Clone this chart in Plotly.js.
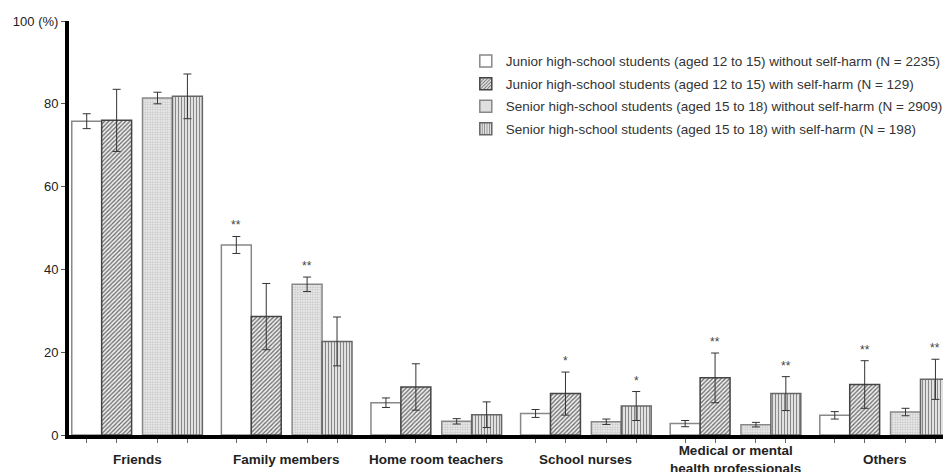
<!DOCTYPE html>
<html><head><meta charset="utf-8">
<script src="https://cdn.plot.ly/plotly-3.0.1.min.js"></script>
<style>html,body{margin:0;padding:0;background:#fff;overflow:hidden}#chart{width:948px;height:472px}</style>
</head><body><div id="chart"></div>
<script>
// ---- data ----
const categories = ['Friends', 'Family members', 'Home room teachers', 'School nurses', 'Medical or mental<br>health professionals', 'Others'];
const seriesNames = [
  'Junior high-school students (aged 12 to 15) without self-harm (N = 2235)',
  'Junior high-school students (aged 12 to 15) with self-harm (N = 129)',
  'Senior high-school students (aged 15 to 18) without self-harm (N = 2909)',
  'Senior high-school students (aged 15 to 18) with self-harm (N = 198)'
];
const juniorNoSelfHarm    = [75.8, 45.9, 7.8, 5.2, 2.75, 4.75];
const juniorNoSelfHarmErr = [1.8, 2.05, 1.15, 0.95, 0.75, 0.9];
const juniorSelfHarm      = [76.0, 28.6, 11.6, 10.0, 13.8, 12.2];
const juniorSelfHarmErr   = [7.5, 8.0, 5.6, 5.2, 6.0, 5.75];
const seniorNoSelfHarm    = [81.4, 36.4, 3.3, 3.2, 2.5, 5.55];
const seniorNoSelfHarmErr = [1.4, 1.75, 0.65, 0.65, 0.55, 0.9];
const seniorSelfHarm      = [81.8, 22.6, 4.9, 7.0, 10.0, 13.45];
const seniorSelfHarmErr   = [5.4, 5.9, 3.1, 3.5, 4.1, 4.85];
const juniorNoSelfHarmSig = ['', '**', '', '', '', ''];
const juniorSelfHarmSig   = ['', '', '', '*', '**', '**'];
const seniorNoSelfHarmSig = ['', '**', '', '', '', ''];
const seniorSelfHarmSig   = ['', '', '', '*', '**', '**'];
const yTickVals = [0, 20, 40, 60, 80, 100];
const yTickText = ['0', '20', '40', '60', '80', '100 (%)'];

// ---- styling ----
const FONT = 'Liberation Sans, Arial, Helvetica, sans-serif';
const barWidth = 0.2, pairGap = 0.073;
const offsets = [-(pairGap/2 + 1.5*barWidth), -(pairGap/2 + 0.5*barWidth), pairGap/2 + 0.5*barWidth, pairGap/2 + 1.5*barWidth];
const values = [juniorNoSelfHarm, juniorSelfHarm, seniorNoSelfHarm, seniorSelfHarm];
const errs = [juniorNoSelfHarmErr, juniorSelfHarmErr, seniorNoSelfHarmErr, seniorSelfHarmErr];
const sigs = [juniorNoSelfHarmSig, juniorSelfHarmSig, seniorNoSelfHarmSig, seniorSelfHarmSig];
const markers = [
  {color: '#ffffff', line: {color: '#888', width: 1.5}},
  {color: '#e0e0e0', line: {color: '#444', width: 1.5}, pattern: {shape: '/', fgcolor: '#666', bgcolor: '#eeeeee', size: 3, solidity: 0.4}},
  {color: '#eeeeee', line: {color: '#888', width: 1.5}, pattern: {shape: '.', fgcolor: '#c4c4c4', bgcolor: '#f4f4f4', size: 2.5, solidity: 0.5}},
  {color: '#ffffff', line: {color: '#666', width: 1.5}, pattern: {shape: '|', fgcolor: '#888', bgcolor: '#ffffff', size: 3, solidity: 0.5}}
];

const traces = values.map((vals, k) => ({
  type: 'bar',
  name: seriesNames[k],
  x: categories.map((c, i) => i + offsets[k]),
  y: vals,
  width: barWidth,
  marker: markers[k],
  error_y: {type: 'data', array: errs[k], visible: true, color: '#333', thickness: 1, width: 4},
  legendgroup: 'g' + k,
  hoverinfo: 'skip'
}));

const annotations = [];
categories.forEach((c, i) => {
  annotations.push({x: i, y: 0, xref: 'x', yref: 'y', text: '<b>' + c + '</b>', showarrow: false,
    xanchor: 'center', yanchor: 'middle', yshift: -24, font: {family: FONT, size: 13.5, color: '#222'}});
});
sigs.forEach((s, k) => s.forEach((t, i) => {
  if (t) annotations.push({x: i + offsets[k], y: values[k][i] + errs[k][i], xref: 'x', yref: 'y', text: t,
    showarrow: false, xanchor: 'center', yanchor: 'bottom', yshift: 2, font: {family: FONT, size: 12, color: '#444'}});
}));

const tickCenters = [];
categories.forEach((c, i) => offsets.forEach(o => tickCenters.push(i + o)));

const layout = {
  width: 948, height: 472,
  margin: {l: 69, r: 0, t: 21, b: 37},
  paper_bgcolor: '#fff', plot_bgcolor: '#fff',
  barmode: 'overlay',
  font: {family: FONT, color: '#222'},
  showlegend: true,
  legend: {x: 0.454, y: 0.94, xanchor: 'left', yanchor: 'top', traceorder: 'grouped', tracegroupgap: 2,
    font: {family: FONT, size: 13.5, color: '#333'}, bgcolor: 'rgba(0,0,0,0)'},
  xaxis: {range: [-0.455, 5.387], tickmode: 'array', tickvals: tickCenters, showticklabels: false,
    ticks: 'outside', ticklen: 4, tickcolor: '#666', tickwidth: 1,
    showline: true, linewidth: 4, linecolor: '#000', showgrid: false, zeroline: false, fixedrange: true},
  yaxis: {range: [0, 100], tickmode: 'array', tickvals: yTickVals, ticktext: yTickText,
    ticks: 'outside', ticklen: 4, tickcolor: '#555', tickwidth: 1, tickfont: {family: FONT, size: 13, color: '#222'},
    showline: true, linewidth: 4, linecolor: '#000', showgrid: false, zeroline: false, fixedrange: true},
  annotations: annotations
};

Plotly.newPlot('chart', traces, layout, {displayModeBar: false, staticPlot: true});
</script>
</body></html>
